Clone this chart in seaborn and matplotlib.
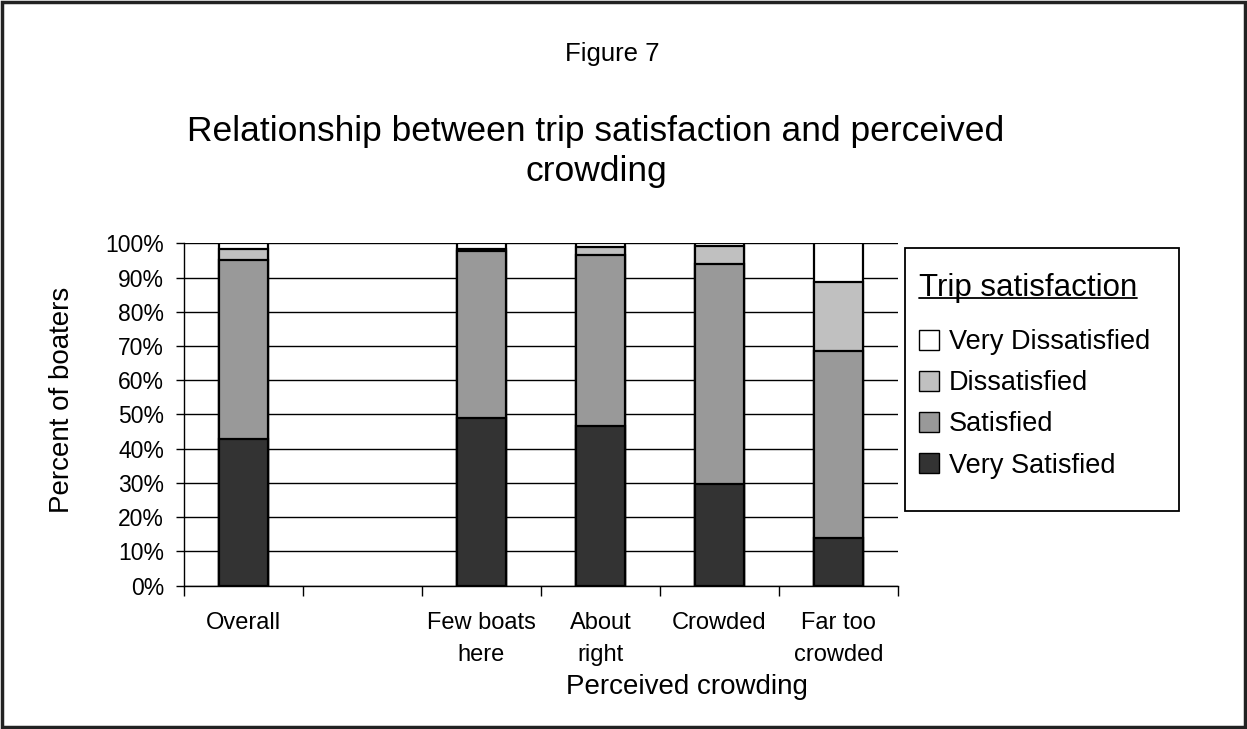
import pandas as pd
import numpy as np
import matplotlib
matplotlib.use("Agg")
import matplotlib.pyplot as plt
import seaborn as sns
from matplotlib.patches import Patch, Rectangle
from matplotlib.lines import Line2D

categories = ["Overall", " ", "Few boats\nhere", "About\nright", "Crowded", "Far too\ncrowded"]
groups = ["Overall", "Few boats\nhere", "About\nright", "Crowded", "Far too\ncrowded"]
very_satisfied = [42.8, 49.1, 46.6, 29.6, 13.8]
satisfied = [52.3, 48.5, 49.9, 64.2, 54.8]
dissatisfied = [3.2, 0.8, 2.3, 5.5, 20.1]
very_dissatisfied = [1.7, 1.6, 1.2, 0.7, 11.3]

levels = ["Very Dissatisfied", "Dissatisfied", "Satisfied", "Very Satisfied"]
colors = {"Very Dissatisfied": "#ffffff", "Dissatisfied": "#c0c0c0",
          "Satisfied": "#999999", "Very Satisfied": "#333333"}

df = pd.DataFrame({"group": groups,
                   "Very Satisfied": very_satisfied,
                   "Satisfied": satisfied,
                   "Dissatisfied": dissatisfied,
                   "Very Dissatisfied": very_dissatisfied})
# cumulative tops for stacking
df["top_vs"] = df["Very Satisfied"]
df["top_s"] = df["top_vs"] + df["Satisfied"]
df["top_d"] = df["top_s"] + df["Dissatisfied"]
df["top_vd"] = df["top_d"] + df["Very Dissatisfied"]

sns.set_style("white")
plt.rcParams["font.family"] = ["Liberation Sans", "DejaVu Sans"]
plt.rcParams["text.color"] = "black"
plt.rcParams["axes.labelcolor"] = "black"
plt.rcParams["xtick.color"] = "black"
plt.rcParams["ytick.color"] = "black"

fig = plt.figure(figsize=(12.47, 7.29), dpi=100)
ax = fig.add_axes([0.1472, 0.1966, 0.5731, 0.4697])

for col, lev in [("top_vd", "Very Dissatisfied"), ("top_d", "Dissatisfied"),
                 ("top_s", "Satisfied"), ("top_vs", "Very Satisfied")]:
    sns.barplot(data=df, x="group", y=col, order=categories, color=colors[lev],
                edgecolor="black", linewidth=1.6, width=0.41, saturation=1,
                errorbar=None, ax=ax, zorder=3)

ax.set_ylim(0, 100)
ax.set_xlim(-0.5, 5.5)
ax.set_yticks(np.arange(0, 101, 10))
ax.set_yticklabels([f"{v}%" for v in range(0, 101, 10)], fontsize=16.5)
ax.yaxis.grid(True, color="black", linewidth=1)
ax.set_axisbelow(True)
ax.tick_params(axis="y", direction="out", length=6, width=1, left=True, pad=8)

ax.set_xticks(range(len(categories)))
ax.set_xticklabels(categories, fontsize=17, linespacing=1.6)
ax.set_xticks(np.arange(-0.5, 6, 1), minor=True)
ax.tick_params(axis="x", which="major", length=0, pad=19)
ax.tick_params(axis="x", which="minor", direction="out", length=7, width=1, bottom=True)

for s in ["top", "right"]:
    ax.spines[s].set_visible(False)
for s in ["left", "bottom"]:
    ax.spines[s].set_color("black")
    ax.spines[s].set_linewidth(1)
ax.set_xlabel("")
ax.set_ylabel("")

fig.text(0.050, 0.451, "Percent of boaters", rotation=90, ha="center", va="center", fontsize=20)
fig.text(0.551, 0.058, "Perceived crowding", ha="center", va="center", fontsize=20)
fig.text(0.491, 0.926, "Figure 7", ha="center", va="center", fontsize=18.5)
fig.text(0.478, 0.792, "Relationship between trip satisfaction and perceived\ncrowding",
         ha="center", va="center", fontsize=25.5, linespacing=1.25)

# legend without its own frame, box drawn separately
handles = [Patch(facecolor=colors[l], edgecolor="black", linewidth=1) for l in levels]
leg = ax.legend(handles, levels, title="Trip satisfaction", loc="upper left",
                bbox_to_anchor=(0.737, 0.626), bbox_transform=fig.transFigure,
                fontsize=19.5, title_fontsize=22.5, frameon=False,
                handlelength=0.75, handleheight=0.75, handletextpad=0.35,
                labelspacing=0.56, borderpad=0, alignment="left", borderaxespad=0)
leg._legend_box.sep = 19

fig.add_artist(Rectangle((0.7257, 0.299), 0.2197, 0.3608, fill=False, edgecolor="black",
                         linewidth=1.3, transform=fig.transFigure))

fig.canvas.draw()
tb = leg.get_title().get_window_extent()
inv = fig.transFigure.inverted()
(x0, y0), (x1, y1) = inv.transform([(tb.x0, tb.y0), (tb.x1, tb.y1)])
fig.add_artist(Line2D([x0, x1], [y0 + 0.006, y0 + 0.006], color="black", linewidth=1.3,
                      transform=fig.transFigure))

fig.add_artist(Rectangle((0.002, 0.003), 0.996, 0.994, fill=False, edgecolor="#222222",
                         linewidth=2.5, transform=fig.transFigure))

fig.savefig("out.png", dpi=100)
